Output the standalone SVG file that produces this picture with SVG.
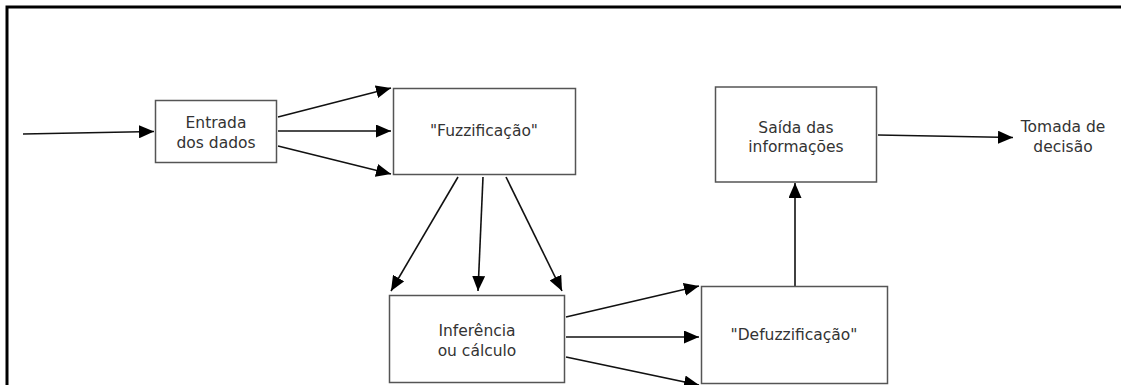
<svg xmlns="http://www.w3.org/2000/svg" width="1121" height="385" viewBox="0 0 1121 385">
<style>
.box{fill:#fff;stroke:#555;stroke-width:1.5}
.lbl{font-family:"DejaVu Sans",Verdana,sans-serif;font-size:15.5px;fill:#333;text-anchor:middle}
.con{stroke:#111;stroke-width:1.6;fill:none;marker-end:url(#ah)}
</style>
<defs>
<marker id="ah" viewBox="0 0 15 13" refX="15" refY="6.5" markerWidth="15" markerHeight="13" markerUnits="userSpaceOnUse" orient="auto">
<path d="M0,0 L15,6.5 L0,13 Z" fill="#000"/>
</marker>
</defs>
<rect width="1121" height="385" fill="#fff"/>
<path d="M7,385 V7 H1121" fill="none" stroke="#000" stroke-width="3"/>
<g id="connectors">
<line class="con" x1="23" y1="134" x2="154" y2="131.5"/>
<line class="con" x1="278" y1="117" x2="391" y2="88"/>
<line class="con" x1="278" y1="131" x2="391" y2="131"/>
<line class="con" x1="278" y1="146" x2="391" y2="174"/>
<line class="con" x1="458" y1="177" x2="391" y2="291"/>
<line class="con" x1="483" y1="177" x2="478" y2="291"/>
<line class="con" x1="506" y1="177" x2="562" y2="291"/>
<line class="con" x1="566" y1="317" x2="699" y2="286"/>
<line class="con" x1="566" y1="337" x2="699" y2="337"/>
<line class="con" x1="566" y1="357" x2="699" y2="385"/>
<line class="con" x1="795" y1="286" x2="795" y2="183"/>
<line class="con" x1="878" y1="135" x2="1013" y2="137.5"/>
</g>
<g id="entrada">
<rect class="box" x="155.5" y="100.5" width="121" height="62"/>
<text class="lbl" x="216" y="128">Entrada</text>
<text class="lbl" x="216" y="148">dos dados</text>
</g>
<g id="fuzzificacao">
<rect class="box" x="393.5" y="88.5" width="182" height="86"/>
<text class="lbl" x="484" y="136">"Fuzzificação"</text>
</g>
<g id="inferencia">
<rect class="box" x="389.5" y="295.5" width="175" height="87"/>
<text class="lbl" x="477" y="336">Inferência</text>
<text class="lbl" x="477" y="356">ou cálculo</text>
</g>
<g id="defuzzificacao">
<rect class="box" x="701.5" y="286.5" width="186" height="97"/>
<text class="lbl" x="794" y="340">"Defuzzificação"</text>
</g>
<g id="saida">
<rect class="box" x="715.5" y="87" width="161" height="95"/>
<text class="lbl" x="796" y="133">Saída das</text>
<text class="lbl" x="796" y="152">informações</text>
</g>
<g id="tomada">
<text class="lbl" x="1063" y="132">Tomada de</text>
<text class="lbl" x="1063" y="152">decisão</text>
</g>
</svg>
